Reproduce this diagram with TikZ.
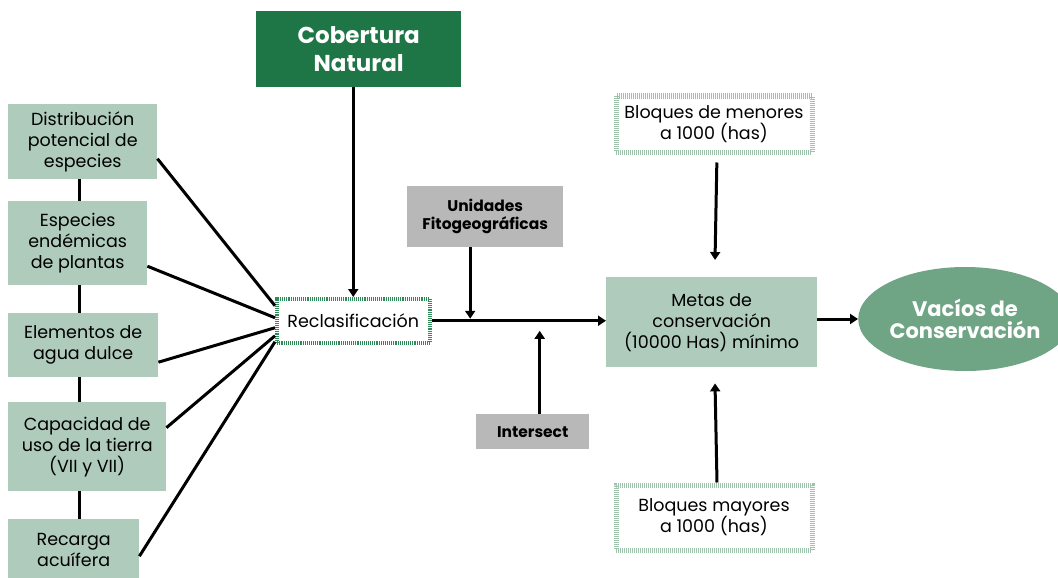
\documentclass[tikz,border=0pt]{standalone}
\usepackage{fontspec}
\setmainfont{Poppins}
\usetikzlibrary{arrows.meta,shapes.geometric,calc,backgrounds}
\definecolor{dkgreen}{HTML}{1E7545}
\definecolor{ltgreen}{HTML}{AFCBBB}
\definecolor{greybox}{HTML}{B8B8B8}
\definecolor{ellgreen}{HTML}{6FA585}
\definecolor{hatchdk}{HTML}{2E8B57}
\definecolor{hatchlt}{HTML}{9FC2AC}
\tikzset{
  box/.style={rectangle, fill=ltgreen, anchor=north west, inner sep=0pt, align=center,
    font=\fontsize{17.5}{21}\selectfont},
  gbox/.style={rectangle, fill=greybox, anchor=north west, inner sep=0pt, align=center,
    font=\fontsize{15.5}{18}\selectfont\bfseries},
  hatchbox/.style={rectangle, fill=white, draw=hatchlt, line width=5pt,
    dash pattern=on 1pt off 1pt, anchor=north west, inner sep=0pt, align=center,
    font=\fontsize{17.5}{21}\selectfont},
  conn/.style={line width=3pt, black},
  arr/.style={conn, -{Triangle[length=8pt,width=10pt]}},
}
\begin{document}
\begin{tikzpicture}[x=1pt,y=-1pt]
\useasboundingbox (0,0) rectangle (1058,578);

% top node
\node[rectangle, fill=dkgreen, text=white, anchor=north west, inner sep=0pt, align=center,
  minimum width=205pt, minimum height=76pt, font=\fontsize{23}{28}\selectfont\bfseries]
  (cob) at (256,11) {Cobertura\\Natural};

% left column
\node[box, minimum width=149pt, minimum height=75pt] (dist) at (8,104) {Distribución\\potencial de\\especies};
\node[box, minimum width=139pt, minimum height=84pt] (esp) at (8,201) {Especies\\endémicas\\de plantas};
\node[box, minimum width=150pt, minimum height=64pt] (elem) at (8,313) {Elementos de\\agua dulce};
\node[box, minimum width=158pt, minimum height=89pt] (cap) at (8,402) {Capacidad de\\uso de la tierra\\(VII y VII)};
\node[box, minimum width=131pt, minimum height=62pt] (rec) at (8,519) {Recarga\\acuífera};

% reclasificacion
\node[rectangle, fill=white, draw=hatchdk, line width=3.5pt, dash pattern=on 1pt off 0.9pt,
  anchor=north west, inner sep=0pt, minimum width=153pt, minimum height=44pt,
  font=\fontsize{17.5}{21}\selectfont] (recl) at (275,297) {Reclasificación};

% grey boxes
\node[gbox, minimum width=156pt, minimum height=61pt] (unid) at (407,186) {Unidades\\Fitogeográficas};
\node[gbox, minimum width=113pt, minimum height=35pt] (inter) at (476,414) {Intersect};

% metas
\node[box, minimum width=211pt, minimum height=90pt] (metas) at (606,277) {Metas de\\conservación\\(10000 Has) mínimo};

% bloques
\node[hatchbox, minimum width=196pt, minimum height=56pt] (men) at (613.5,93.5) {Bloques de menores\\a 1000 (has)};
\node[hatchbox, minimum width=196pt, minimum height=65pt] (may) at (613.5,482.5) {Bloques mayores\\a 1000 (has)};

% ellipse
\node[ellipse, fill=ellgreen, text=white, inner sep=0pt, minimum width=190pt, minimum height=104pt,
  align=center, font=\fontsize{21}{22}\selectfont\bfseries] (vac) at (965,319) {Vacíos de\\Conservación};

% spine behind left boxes
\begin{scope}[on background layer]
\draw[conn] ($(dist.south west)+(71,0)$) -- ($(rec.north west)+(71,0)$);
\end{scope}

% left connectors
\draw[conn] ($(dist.east)+(0,17)$) -- ($(recl.west)+(0,-15)$);
\draw[conn] ($(esp.east)+(0,23)$) -- ($(recl.west)+(0,-3)$);
\draw[conn] ($(elem.east)+(0,17)$) -- ($(recl.west)+(0,7)$);
\draw[conn] ($(cap.east)+(0,-19)$) -- ($(recl.west)+(0,15)$);
\draw[conn] ($(rec.east)+(0,6)$) -- ($(recl.west)+(0,21)$);

% arrows
\draw[arr] (recl.north |- cob.south) -- (recl.north);
\draw[arr] (recl.east) -- (recl.east -| metas.west);
\coordinate (ua) at ($(unid.south)+(-15,0)$);
\draw[arr, shorten >=2pt] (ua) -- (ua |- recl.east);
\coordinate (ia) at ($(inter.north)+(7,0)$);
\draw[arr, shorten >=10pt] (ia) -- (ia |- recl.east);
\draw[arr, shorten <=8pt, shorten >=17pt] ($(men.south)+(3,0)$) -- ($(metas.north)+(3,0)$);
\draw[arr, shorten >=16pt] ($(may.north)+(3,0)$) -- ($(metas.south)+(3,0)$);
\draw[arr] (metas.east |- vac.west) -- (vac.west);
\end{tikzpicture}
\end{document}
